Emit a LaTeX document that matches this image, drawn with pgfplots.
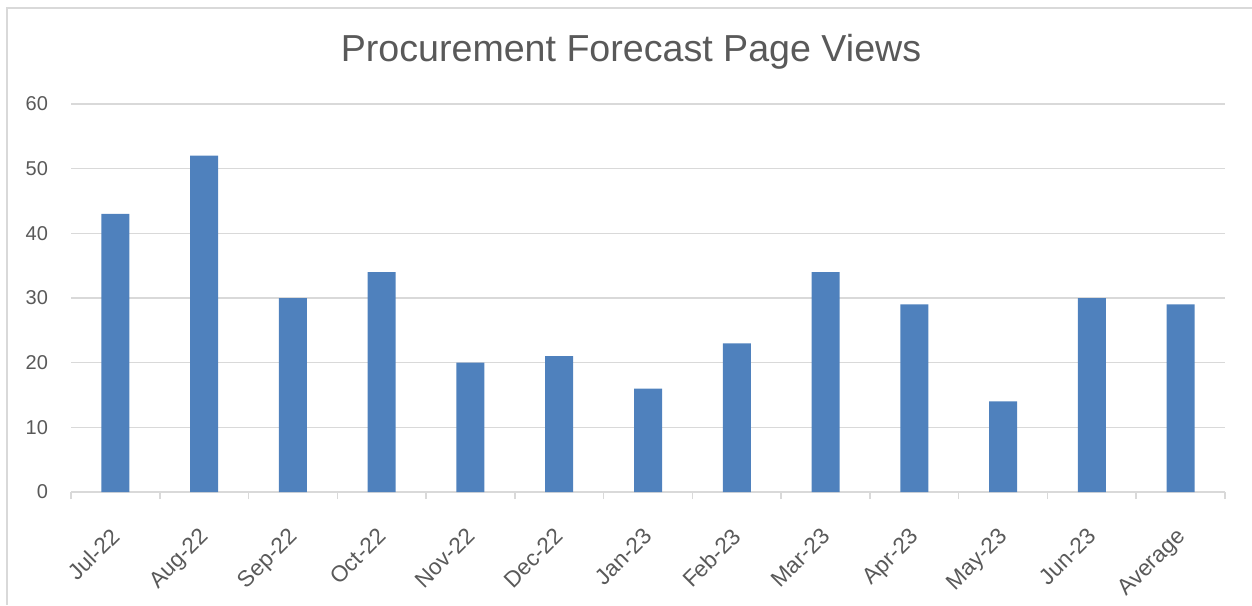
\documentclass[border=0pt]{standalone}
\usepackage{fontspec}
\setmainfont{Liberation Sans}
\usepackage{pgfplots}
\pgfplotsset{compat=1.18}
\definecolor{barblue}{HTML}{4F81BD}
\definecolor{gridgray}{HTML}{D9D9D9}
\definecolor{textgray}{HTML}{595959}
\begin{document}
\begin{tikzpicture}
% page = 1252x605 px, 1px = 0.5pt
\path[use as bounding box] (0,0) rectangle (626pt,302.5pt);
\draw[gridgray, line width=1pt] (3.5pt,0) -- (3.5pt,298.5pt) -- (626pt,298.5pt);
\begin{axis}[
    at={(35.5pt,56.5pt)}, anchor=south west,
    scale only axis,
    width=577pt, height=194pt,
    ybar, bar width=14pt,
    xmin=-0.5, xmax=12.5,
    ymin=0, ymax=60,
    ytick={0,10,...,60},
    xtick={0,...,12},
    xticklabels={Jul-22,Aug-22,Sep-22,Oct-22,Nov-22,Dec-22,Jan-23,Feb-23,Mar-23,Apr-23,May-23,Jun-23,Average},
    extra x ticks={-0.5,0.5,...,12.5},
    extra x tick labels={},
    extra x tick style={tick style={draw=gridgray, line width=0.75pt}, major tick length=3.5pt, tick align=outside, grid=none},
    axis x line*=bottom,
    axis y line*=left,
    x axis line style={draw=gridgray, line width=0.75pt, -},
    y axis line style={draw=none},
    ymajorgrids,
    major grid style={draw=gridgray, line width=0.75pt},
    tick style={draw=none},
    /pgf/number format/assume math mode=true,
    yticklabel style={font=\fontsize{10}{12}\selectfont, text=textgray, anchor=east, xshift=-8pt},
    xticklabel style={font=\fontsize{11.3}{13}\selectfont, text=textgray, rotate=45, anchor=north east, inner sep=1pt, xshift=-10pt, yshift=-6pt},
    title={Procurement Forecast Page Views},
    title style={at={(0.5,1)}, anchor=center, xshift=-8.5pt, yshift=20pt,
        font=\fontsize{18.8}{22}\selectfont, text=textgray},
    clip=false,
]
\addplot[fill=barblue, draw=none] coordinates {
    (0,43) (1,52) (2,30) (3,34) (4,20) (5,21) (6,16)
    (7,23) (8,34) (9,29) (10,14) (11,30) (12,29)
};
\end{axis}
\end{tikzpicture}
\end{document}
